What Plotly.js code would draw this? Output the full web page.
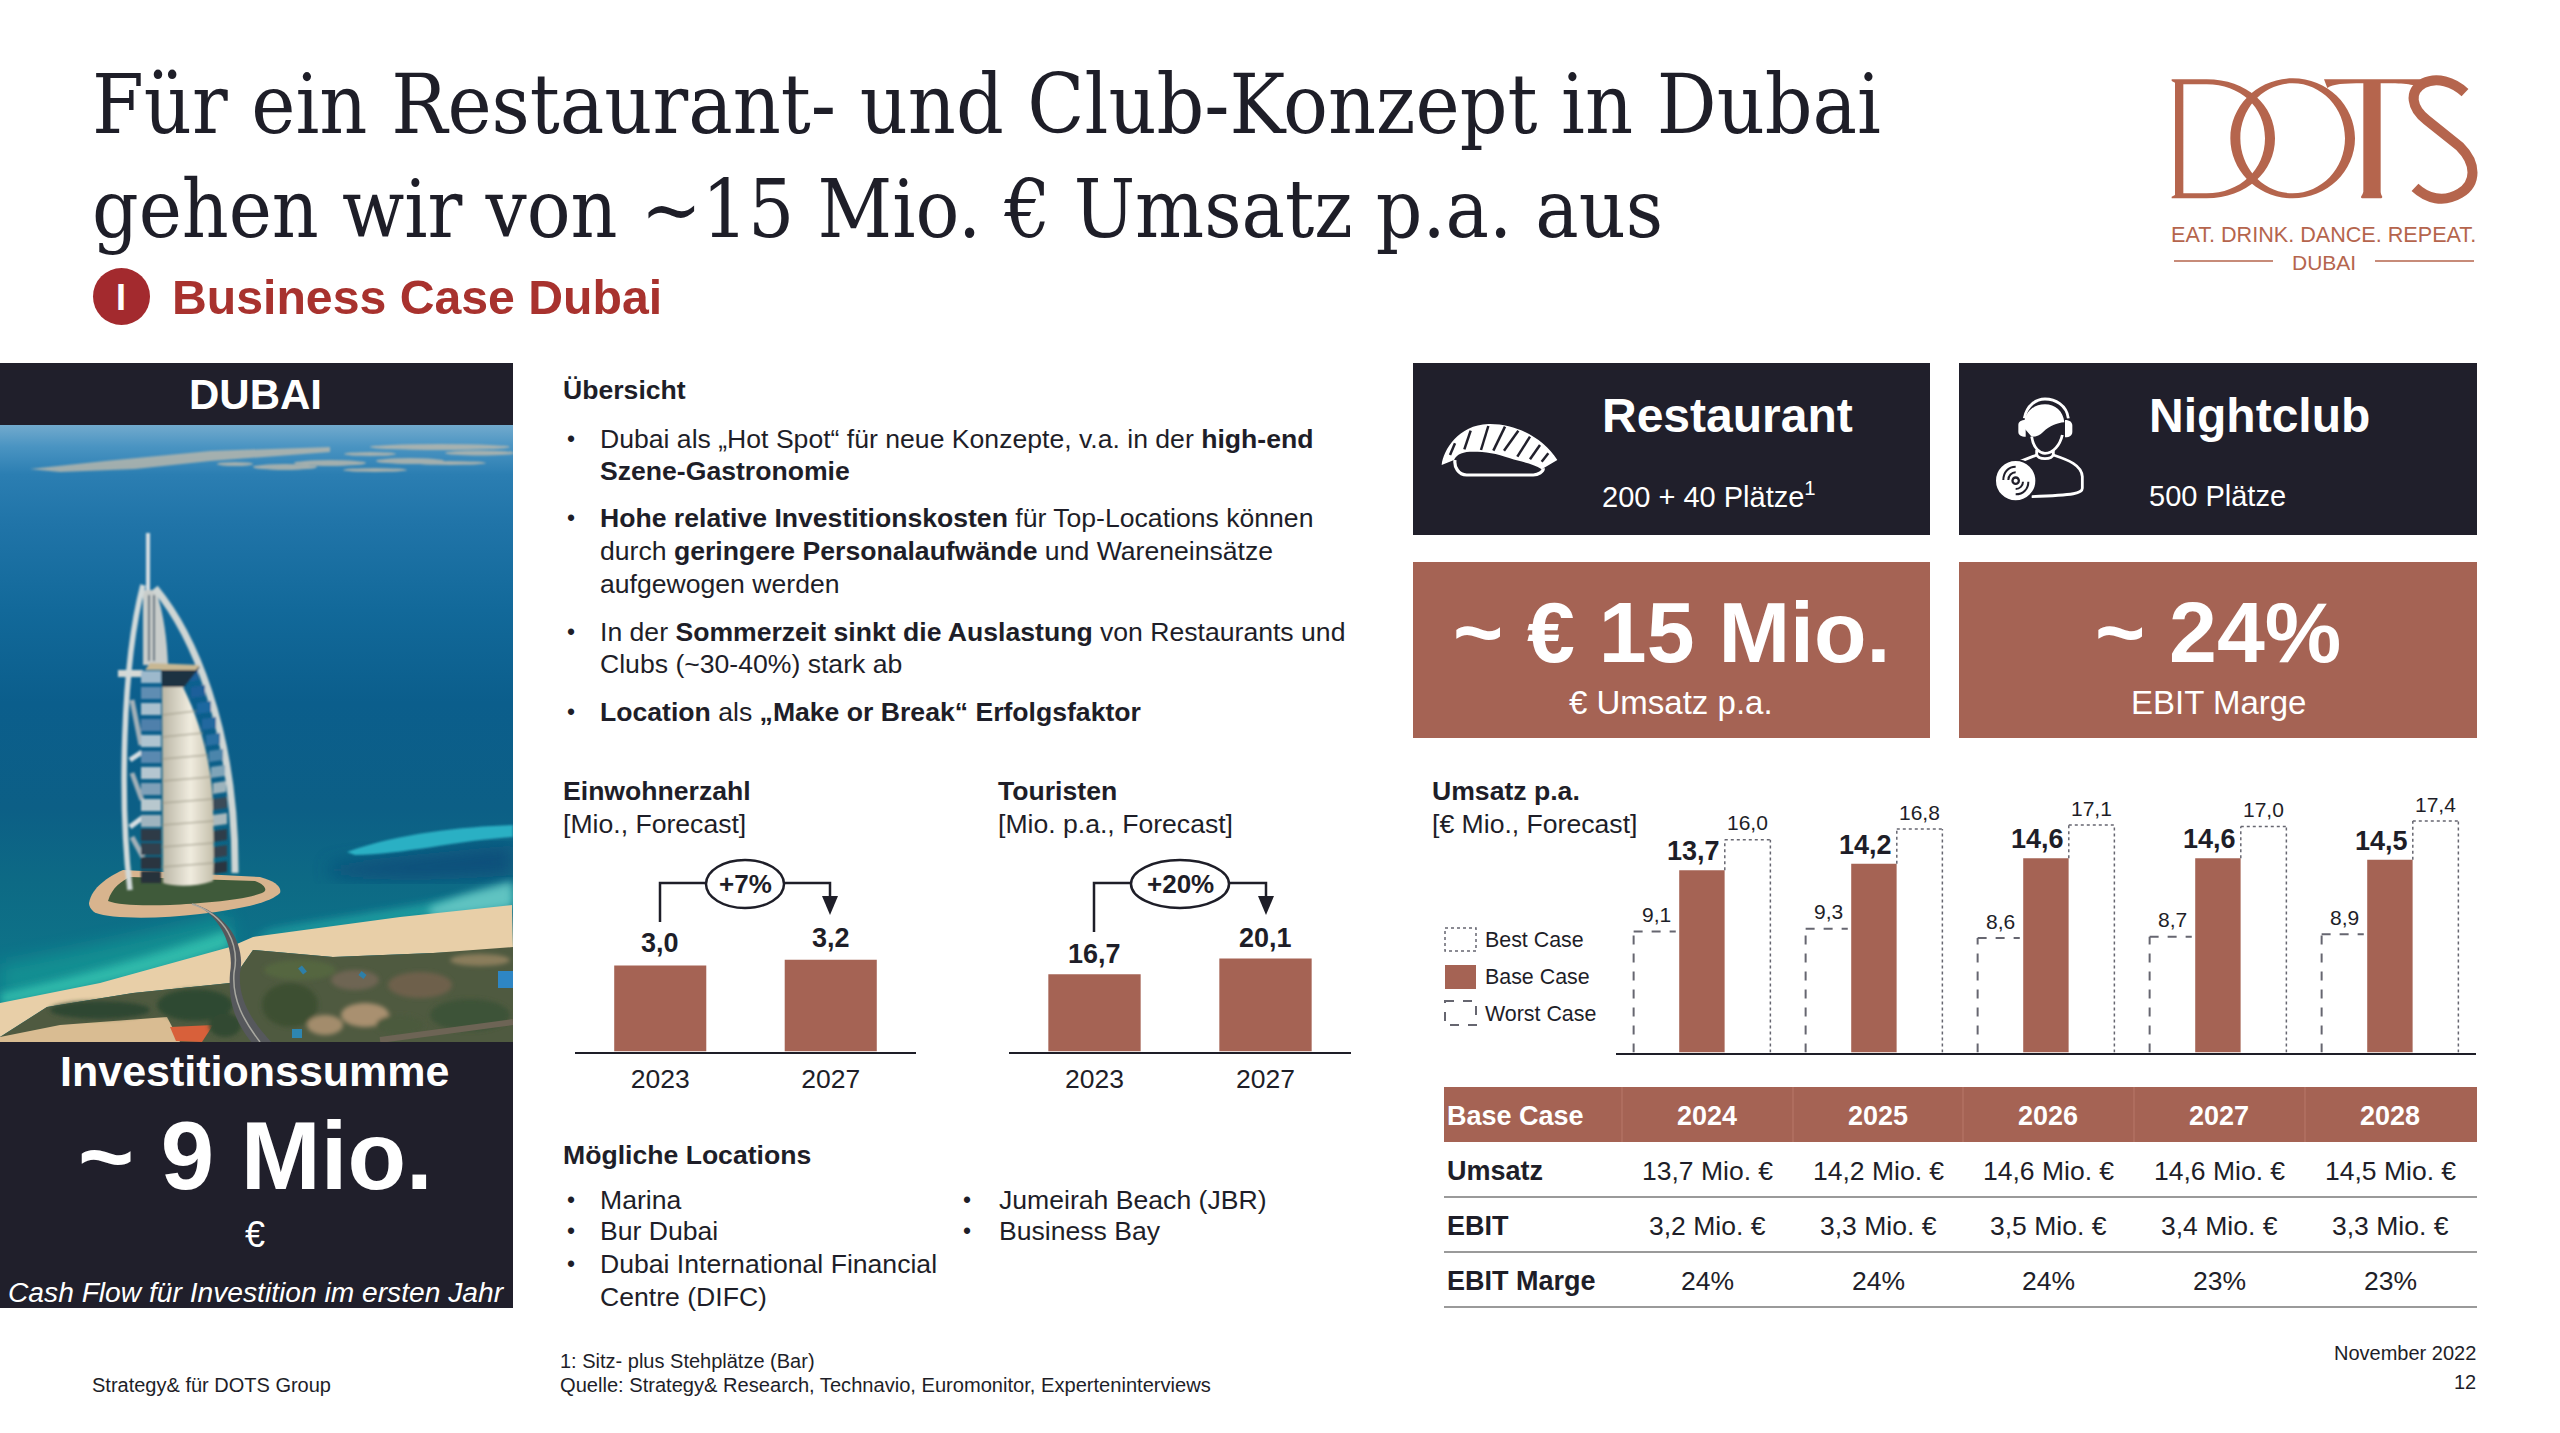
<!DOCTYPE html>
<html><head><meta charset="utf-8">
<script src="https://cdn.plot.ly/plotly-3.0.1.min.js"></script>
<style>html,body{margin:0;padding:0;background:#fff}</style></head>
<body><div id="chart" style="width:2560px;height:1433px"></div>
<script>
// ---------- data ----------
const residentYears = ['2023','2027'];
const residentValues = [3.0,3.2];
const touristYears = ['2023','2027'];
const touristValues = [16.7,20.1];
const revenueYears = ['2024','2025','2026','2027','2028'];
const worstCase = [9.1,9.3,8.6,8.7,8.9];
const baseCase = [13.7,14.2,14.6,14.6,14.5];
const bestCase = [16.0,16.8,17.1,17.0,17.4];
const ebit = [3.2,3.3,3.5,3.4,3.3];
const ebitMargin = [24,24,24,23,23];

const W=2560,H=1433;
const DARK='#201F2B', BROWN='#A56354', INK='#1E1E28', LOGO='#B5654D';
const FONT='"Liberation Sans",Arial,sans-serif';
const fx=x=>x/W, fy=y=>1-y/H;
const comma=v=>v.toFixed(1).replace('.',',');
const shapes=[], annotations=[];

function txt(x,y,text,size,opt){opt=opt||{};
  annotations.push({xref:'paper',yref:'paper',x:fx(x),y:fy(y),text:text,showarrow:false,
    xanchor:opt.a||'left',yanchor:'middle',borderpad:0,
    font:{family:opt.f||FONT,size:size,color:opt.c||INK}});
}
function axisLabel(ax,i,v,shift,size,bold,xshift){
  const t=comma(v);
  annotations.push({xref:'x'+ax,yref:'y'+ax,x:i,y:v,yshift:shift,xshift:xshift||0,text:bold?'<b>'+t+'</b>':t,
    showarrow:false,xanchor:'center',yanchor:'middle',font:{family:FONT,size:size,color:INK}});
}
function rect(x0,y0,x1,y1,fill,line){
  shapes.push({type:'rect',xref:'paper',yref:'paper',x0:fx(x0),x1:fx(x1),y0:fy(y0),y1:fy(y1),
    fillcolor:fill||'rgba(0,0,0,0)',line:line||{width:0},layer:'below'});
}
function hline(x0,x1,y,color,width,dash){
  shapes.push({type:'line',xref:'paper',yref:'paper',x0:fx(x0),x1:fx(x1),y0:fy(y),y1:fy(y),
    line:{color:color,width:width,dash:dash||'solid'}});
}
function P(d,ox,oy,sx,sy){let i=0;
  return d.replace(/-?\d+(\.\d+)?/g,n=>{const v=+n;const r=(i++%2===0)?fx(ox+v*sx):fy(oy+v*sy);return r.toFixed(6);});
}
function path(d,ox,oy,sx,sy,fill,line){
  shapes.push({type:'path',xref:'paper',yref:'paper',path:P(d,ox,oy,sx,sy),
    fillcolor:fill||'rgba(0,0,0,0)',line:line||{width:0}});
}
function ell(cx,cy,rx,ry){const k=0.5523;
  return `M${cx-rx},${cy} C${cx-rx},${cy-k*ry} ${cx-k*rx},${cy-ry} ${cx},${cy-ry} C${cx+k*rx},${cy-ry} ${cx+rx},${cy-k*ry} ${cx+rx},${cy} C${cx+rx},${cy+k*ry} ${cx+k*rx},${cy+ry} ${cx},${cy+ry} C${cx-k*rx},${cy+ry} ${cx-rx},${cy+k*ry} ${cx-rx},${cy} Z `;
}

// ---------- header ----------
const TITLEF='"DejaVu Serif Condensed","Liberation Serif",Georgia,serif';
txt(91,104,'Für ein Restaurant- und Club-Konzept in Dubai',83,{f:TITLEF});
txt(91,209,'gehen wir von ~15 Mio. € Umsatz p.a. aus',81,{f:TITLEF});
shapes.push({type:'circle',xref:'paper',yref:'paper',x0:fx(93),x1:fx(150),y0:fy(268),y1:fy(325),fillcolor:'#A32A2E',line:{width:0}});
txt(121,297,'<b>I</b>',36,{a:'center',c:'#fff'});
txt(171,297,'<b>Business Case Dubai</b>',48.2,{c:'#A8322E'});

// ---------- logo ----------
const L=[2140,50,1/3,1/3];
path('M95,88 L200,88 C320,88 405,165 405,265 C405,365 320,445 200,445 L95,445 L95,440 L105,435 L105,98 L95,93 Z M130,103 L130,430 L200,430 C300,430 375,360 375,265 C375,170 300,103 200,103 Z',...L,LOGO);
path(ell(458,265,187,180)+ell(458,265,157,165),...L,LOGO);
path('M552,88 L845,88 L840,114 C820,102 790,100 722,100 L722,425 C722,437 732,440 724,445 L666,445 C658,440 668,437 670,425 L670,100 C610,100 580,102 562,114 Z',...L,LOGO);
path('M975,128 C940,95 890,80 850,100 C805,125 815,175 860,210 L960,290 C1010,340 1010,400 960,430 C910,460 860,445 825,412',...L,null,{color:LOGO,width:10});
txt(2323,235,'EAT. DRINK. DANCE. REPEAT.',21.6,{a:'center',c:LOGO});
txt(2324,262,'DUBAI',21,{a:'center',c:LOGO});
hline(2174,2273,261,LOGO,1.5);
hline(2375,2474,261,LOGO,1.5);

// ---------- left panel ----------
rect(0,363,513,1308,DARK);
txt(255,395,'<b>DUBAI</b>',42,{a:'center',c:'#fff'});
txt(255,1071,'<b>Investitionssumme</b>',43,{a:'center',c:'#fff'});
txt(255,1155,'<b>~ 9 Mio.</b>',96,{a:'center',c:'#fff'});
txt(255,1234,'€',36,{a:'center',c:'#fff'});
txt(256,1292,'<i>Cash Flow für Investition im ersten Jahr</i>',28.2,{a:'center',c:'#fff'});

const latRows=[];
for(const [y,c] of [[246,'#9DB9CC'],[262,'#5F8DB2'],[278,'#A9C0CE'],[294,'#4F80AB'],[310,'#AFC4D0'],[326,'#5A89B0'],[342,'#B4C6D0'],[358,'#7FA0B8'],[374,'#B8C8CE'],[390,'#9FB4BF'],[404,'#2E3A46'],[418,'#33414E'],[432,'#2A3440'],[446,'#26303A']]){
  latRows.push(`<rect x="141" y="${y}" width="20" height="12" fill="${c}"/>`);
}
const rightRows=[];
for(const [x0,x1,y,c] of [[184,198,246,'#1E5F9A'],[191,205,262,'#1E5F9A'],[197,211,278,'#1F67A0'],[202,216,294,'#24689F'],[206,220,310,'#2B6FA3'],[209,223,326,'#4B85AB'],[211,225,342,'#7FA4B8'],[213,226,358,'#9DB3BC'],[213,227,374,'#3B4B58'],[213,227,390,'#AAB9BD'],[213,227,406,'#2E3C48'],[213,227,422,'#35434F'],[213,227,438,'#2A3440']]){
  rightRows.push(`<path d="M${x0},${y} L${x1},${y-2} L${x1},${y+9} L${x0},${y+11} Z" fill="${c}"/>`);
}
const photo=`<svg xmlns="http://www.w3.org/2000/svg" width="513" height="617" viewBox="0 0 513 617">
<defs>
<linearGradient id="sea" x1="0" y1="0" x2="0" y2="1">
<stop offset="0" stop-color="#72AACD"/><stop offset="0.035" stop-color="#4A94C2"/><stop offset="0.08" stop-color="#2B7EB2"/>
<stop offset="0.16" stop-color="#2074A8"/><stop offset="0.3" stop-color="#12699A"/><stop offset="0.45" stop-color="#0B5E8C"/>
<stop offset="0.62" stop-color="#0C5F86"/><stop offset="0.74" stop-color="#0D6A85"/><stop offset="1" stop-color="#0F7D8C"/></linearGradient>
<linearGradient id="sail" x1="0" y1="0" x2="1" y2="0"><stop offset="0" stop-color="#B9B5A4"/><stop offset="0.55" stop-color="#F0ECDF"/><stop offset="1" stop-color="#C4BFAB"/></linearGradient>
<filter id="b1"><feGaussianBlur stdDeviation="0.8"/></filter>
<filter id="b2"><feGaussianBlur stdDeviation="2"/></filter>
<filter id="b4"><feGaussianBlur stdDeviation="4"/></filter>
<filter id="b9"><feGaussianBlur stdDeviation="9"/></filter>
</defs>
<rect width="513" height="617" fill="url(#sea)"/>
<g fill="#BDB9AC" opacity="0.8" filter="url(#b1)">
<path d="M30,44 L105,36 L210,26 L330,22 L330,27 L210,36 L135,44 L60,47 Z"/>
<ellipse cx="235" cy="39" rx="18" ry="2"/><ellipse cx="285" cy="42" rx="32" ry="3"/><ellipse cx="330" cy="38" rx="36" ry="3"/>
<ellipse cx="375" cy="45" rx="32" ry="2"/><ellipse cx="410" cy="36" rx="34" ry="3"/><ellipse cx="450" cy="38" rx="36" ry="2"/>
<ellipse cx="440" cy="22" rx="70" ry="3"/><ellipse cx="480" cy="28" rx="35" ry="2.5"/><ellipse cx="370" cy="29" rx="26" ry="2"/>
</g>
<path d="M330,440 C400,430 470,425 513,420 L513,450 C450,455 380,458 330,450 Z" fill="#0D4A78" opacity="0.8" filter="url(#b9)"/>
<path d="M347,427 C400,408 460,402 513,400 L513,412 C460,415 400,430 355,430 Z" fill="#2BB0C4" filter="url(#b1)"/>
<path d="M270,505 C340,492 440,478 513,462 L513,482 L253,514 Z" fill="#22A8A6" opacity="0.8" filter="url(#b4)"/>
<path d="M430,482 C460,470 490,462 513,456 L513,482 C480,488 450,490 430,492 Z" fill="#6CCBC8" opacity="0.85" filter="url(#b4)"/>
<path d="M0,540 C80,525 170,505 228,490 L232,515 C170,535 80,555 0,570 Z" fill="#17A399" opacity="0.6" filter="url(#b9)"/>
<path d="M0,568 C90,548 170,525 228,505 L232,522 C170,545 90,565 0,580 Z" fill="#34C4B0" opacity="0.85" filter="url(#b4)"/>
<path d="M0,578 L100,558 L230,522 L253,512 L400,492 L512,480 L513,525 L433,528 L333,532 L253,525 L230,558 L133,568 L47,582 L0,612 Z" fill="#E8CFA8"/>
<path d="M0,612 L47,582 L133,568 L230,558 L253,525 L333,532 L433,528 L513,522 L513,617 L0,617 Z" fill="#4F5A40"/>
<path d="M0,617 L0,612 L60,600 L167,592 L180,617 Z" fill="#D9BC92"/>
<path d="M170,602 L213,600 L202,617 L176,616 Z" fill="#D8603A"/>
<g filter="url(#b2)">
<ellipse cx="100" cy="585" rx="50" ry="9" fill="#2F4632"/><ellipse cx="195" cy="580" rx="38" ry="16" fill="#2F4A30"/>
<ellipse cx="225" cy="600" rx="16" ry="12" fill="#304A30"/><ellipse cx="300" cy="545" rx="36" ry="10" fill="#55663F"/>
<ellipse cx="290" cy="580" rx="28" ry="22" fill="#3D5032"/><ellipse cx="365" cy="590" rx="24" ry="12" fill="#A99070"/>
<ellipse cx="355" cy="555" rx="24" ry="10" fill="#6E6552"/><ellipse cx="420" cy="560" rx="32" ry="13" fill="#6E604C"/>
<ellipse cx="470" cy="590" rx="40" ry="16" fill="#3D5238"/><ellipse cx="400" cy="600" rx="24" ry="10" fill="#4C5A3C"/>
<ellipse cx="325" cy="600" rx="18" ry="10" fill="#A38C6C"/><ellipse cx="480" cy="535" rx="30" ry="6" fill="#8A7D5C"/>
</g>
<rect x="498" y="546" width="15" height="17" fill="#2E86C4"/>
<rect x="292" y="604" width="10" height="9" fill="#2E86B0"/>
<path d="M300,542 L305,548 M360,548 L365,552" stroke="#2E7FA8" stroke-width="5"/>
<path d="M380,615 L513,597" stroke="#6D6455" stroke-width="6"/>
<path d="M89,478 C92,462 108,452 123,445 L260,452 C275,456 282,462 280,468 C270,478 240,484 200,489 C160,494 110,494 96,488 C92,486 89,482 89,478 Z" fill="#D8B48E"/>
<path d="M108,476 C112,462 122,456 130,452 L255,456 C266,460 268,466 262,468 C240,476 200,478 170,480 C140,481 118,480 108,476 Z" fill="#3F5A3A"/>
<path d="M190,478 C228,488 246,520 240,548 C238,575 252,596 272,618 L252,618 C234,596 228,575 230,548 C235,520 218,492 200,482 Z" fill="#56585C"/>
<path d="M192,479 C226,490 240,520 234,548 C232,575 244,596 260,617" stroke="#A8A8A0" stroke-width="1.5" fill="none"/>
<g filter="url(#b1)">
<path d="M148,108 L148,168" stroke="#D8DFE2" stroke-width="4"/>
<path d="M143,240 L143,165 L156,165 C164,190 167,215 168,240 Z" fill="#C9CDCB"/>
<path d="M149,170 L149,236 M154,170 L154,236" stroke="#55697A" stroke-width="2"/>
<path d="M118,245 L143,245 L143,252 L118,252 Z" fill="#D5D9D6"/>
<path d="M141,320 L132,275 M142,375 L132,348 M143,432 L132,412" stroke="#A2B0B8" stroke-width="5"/>
<path d="M130,335 L142,327 M130,402 L142,393" stroke="#D5DEE2" stroke-width="5"/>
<path d="M130,465 C120,380 122,240 143,160" stroke="#D2DADA" stroke-width="5.5" fill="none"/>
<path d="M155,163 C190,205 236,300 235,448" stroke="#CFD6D4" stroke-width="7" fill="none"/>
${latRows.join('')}
${rightRows.join('')}
<path d="M161,242 L200,242 L184,262 L162,262 Z" fill="#1F3242"/>
<path d="M150,238 L200,240 L196,245 L145,245 Z" fill="#C7B793"/>
<path d="M162,262 L183,262 C202,300 213,345 213,385 C214,420 214,445 213,456 C195,462 175,462 163,458 Z" fill="url(#sail)"/>
<path d="M162,290 L196,286 M162,312 L203,308 M162,334 L208,330 M162,356 L211,352 M162,378 L213,374 M162,400 L214,396 M162,422 L214,418 M162,442 L214,438" stroke="#9C9886" stroke-width="1.6" opacity="0.65"/>
</g>
</svg>`;
const images=[{source:'data:image/svg+xml;charset=utf-8,'+encodeURIComponent(photo),xref:'paper',yref:'paper',
  x:0,y:fy(425),sizex:513/W,sizey:617/H,sizing:'stretch',xanchor:'left',yanchor:'top',layer:'above'}];

// ---------- middle text ----------
const BX=566, TX=599, BODY=26.6, BUL=23;
txt(562,390,'<b>Übersicht</b>',BODY);
const overview=[
 [439,'Dubai als „Hot Spot“ für neue Konzepte, v.a. in der <b>high-end</b>',1],
 [471,'<b>Szene-Gastronomie</b>',0],
 [518,'<b>Hohe relative Investitionskosten</b> für Top-Locations können',1],
 [551,'durch <b>geringere Personalaufwände</b> und Wareneinsätze',0],
 [584,'aufgewogen werden',0],
 [632,'In der <b>Sommerzeit sinkt die Auslastung</b> von Restaurants und',1],
 [664,'Clubs (~30-40%) stark ab',0],
 [712,'<b>Location</b> als <b>„Make or Break“ Erfolgsfaktor</b>',1]];
overview.forEach(r=>{ if(r[2]) txt(BX,r[0],'•',BUL); txt(TX,r[0],r[1],BODY); });

txt(562,791,'<b>Einwohnerzahl</b>',BODY);
txt(562,824,'[Mio., Forecast]',BODY);
txt(997,791,'<b>Touristen</b>',BODY);
txt(997,824,'[Mio. p.a., Forecast]',BODY);

function growth(x0,x1,bottom,ex0,ex1,label){
  const c={color:INK,width:2.5};
  shapes.push({type:'path',xref:'paper',yref:'paper',
    path:P(`M${x0},${bottom} L${x0},883 L${x1},883 L${x1},897`,0,0,1,1),line:c});
  path(`M${x1-8},896 L${x1+8},896 L${x1},915 Z`,0,0,1,1,INK);
  shapes.push({type:'circle',xref:'paper',yref:'paper',x0:fx(ex0),x1:fx(ex1),y0:fy(860),y1:fy(908),
    fillcolor:'#fff',line:c});
  txt((ex0+ex1)/2,884,'<b>'+label+'</b>',26,{a:'center'});
}
growth(660,830,922,706,784,'+7%');
growth(1094,1266,932,1131,1229,'+20%');

txt(562,1155,'<b>Mögliche Locations</b>',BODY);
[[1200,'Marina'],[1231,'Bur Dubai'],[1264,'Dubai International Financial']].forEach(r=>{txt(BX,r[0],'•',BUL);txt(TX,r[0],r[1],BODY);});
txt(TX,1297,'Centre (DIFC)',BODY);
[[1200,'Jumeirah Beach (JBR)'],[1231,'Business Bay']].forEach(r=>{txt(962,r[0],'•',BUL);txt(998,r[0],r[1],BODY);});

// ---------- footer ----------
txt(91,1385,'Strategy&amp; für DOTS Group',20);
txt(559,1361,'1: Sitz- plus Stehplätze (Bar)',20);
txt(559,1385,'Quelle: Strategy&amp; Research, Technavio, Euromonitor, Experteninterviews',20.1);
txt(2477,1353,'November 2022',20,{a:'right'});
txt(2477,1382,'12',20,{a:'right'});

// ---------- cards ----------
rect(1413,363,1930,535,DARK); rect(1959,363,2477,535,DARK);
rect(1413,562,1930,738,BROWN); rect(1959,562,2477,738,BROWN);
txt(1601,415,'<b>Restaurant</b>',48,{c:'#fff'});
txt(1601,495,'200 + 40 Plätze<sup>1</sup>',29,{c:'#fff'});
txt(2148,415,'<b>Nightclub</b>',48,{c:'#fff'});
txt(2148,496,'500 Plätze',29,{c:'#fff'});
txt(1671,632,'<b>~ € 15 Mio.</b>',86,{a:'center',c:'#fff'});
txt(1671,702,'€ Umsatz p.a.',33,{a:'center',c:'#fff'});
txt(2218,632,'<b>~ 24%</b>',86,{a:'center',c:'#fff'});
txt(2218,702,'EBIT Marge',33,{a:'center',c:'#fff'});

// sushi icon
const S=[1430,410,1/3,1/3];
path('M35,165 C40,120 85,45 175,42 C260,40 340,85 382,150 L335,178 C310,160 270,155 240,145 C200,130 165,125 130,125 C100,125 82,130 72,150 Z',...S,'#fff');
[[75,100,60,135],[122,62,103,118],[175,48,153,120],[225,50,190,122],[265,62,222,122],[300,80,262,140],[330,105,300,148],[355,130,335,155]].forEach(s=>
  path(`M${s[0]},${s[1]} L${s[2]},${s[3]}`,...S,null,{color:DARK,width:2.5}));
path('M75,150 C72,170 85,195 110,195 L310,195 C325,195 340,185 340,175',...S,null,{color:'#fff',width:3.2});
// DJ icon
const D=[1985,385,1/3,1/3];
const white={color:'#fff',width:2.8};
path('M118,100 C125,60 155,42 180,42 C210,42 245,60 250,100',...D,null,white);
path('M118,108 C125,75 150,58 180,58 C210,58 235,78 238,112 C215,114 195,122 175,140 C165,150 155,155 140,155 L118,130 Z',...D,'#fff');
path('M100,120 C100,110 108,105 122,105 L122,155 C108,155 100,150 100,140 Z',...D,'#fff');
path('M240,105 C255,105 262,112 262,122 L262,140 C262,150 255,157 240,157 Z',...D,'#fff');
path('M140,155 C145,190 165,205 180,205 C205,205 225,180 232,150',...D,null,white);
path('M155,195 L155,208 C160,225 200,225 205,208 L205,195',...D,null,white);
path('M205,210 C250,225 290,240 292,275 L292,310 C292,325 270,330 140,335',...D,null,white);
path('M155,210 C135,218 115,225 100,232',...D,null,white);
path(ell(92,287,62,62),...D,'#fff',{color:DARK,width:2});
path('M55,285 C55,262 70,245 92,245 M70,285 C70,272 80,262 92,262',...D,null,{color:DARK,width:2});
path('M130,290 C130,312 115,328 92,328 M114,290 C114,302 104,312 92,312',...D,null,{color:DARK,width:2});
path(ell(92,287,13,13),...D,DARK);
path(ell(92,287,6,6),...D,'#fff');

// ---------- legend of the revenue chart ----------
txt(1431,791,'<b>Umsatz p.a.</b>',BODY);
txt(1431,824,'[€ Mio., Forecast]',BODY);
const GREY='#666670';
rect(1445,928,1476,951,'#fff',{color:GREY,width:1.5,dash:'dot'});
rect(1445,965,1476,989,BROWN);
rect(1445,1001,1476,1025,'#fff',{color:GREY,width:2,dash:'dash'});
txt(1484,940,'Best Case',21.4); txt(1484,977,'Base Case',21.4); txt(1484,1014,'Worst Case',21.4);

// ---------- outlines and value labels on the chart's own axes ----------
const BW=0.265;
revenueYears.forEach((_,i)=>{
  const ax={xref:'x3',yref:'y3',type:'line'};
  const wx0=i-1.5*BW, wx1=i-0.5*BW, bx0=i+0.5*BW, bx1=i+1.5*BW;
  const wl={color:GREY,width:2,dash:'dash'}, bl={color:GREY,width:1.5,dash:'dot'};
  shapes.push({...ax,x0:wx0,x1:wx0,y0:0,y1:worstCase[i],line:wl});
  shapes.push({...ax,x0:wx0,x1:wx1-0.02,y0:worstCase[i],y1:worstCase[i],line:wl});
  shapes.push({...ax,x0:bx0,x1:bx0,y0:baseCase[i],y1:bestCase[i],line:bl});
  shapes.push({...ax,x0:bx0,x1:bx1,y0:bestCase[i],y1:bestCase[i],line:bl});
  shapes.push({...ax,x0:bx1,x1:bx1,y0:0,y1:bestCase[i],line:bl});
  axisLabel(3,i,baseCase[i],19,27,true,-9);
  axisLabel(3,i-BW,worstCase[i],17,21,false);
  axisLabel(3,i+BW,bestCase[i],17,21,false);
});
residentValues.forEach((v,i)=>axisLabel('',i,v,22,27,true));
touristValues.forEach((v,i)=>axisLabel(2,i,v,20,27,true));

// ---------- table ----------
const COLS=[1707,1878,2048,2219,2390];
rect(1444,1087,2477,1142,BROWN);
[1622,1793,1963,2134,2305].forEach(x=>shapes.push({type:'line',xref:'paper',yref:'paper',x0:fx(x),x1:fx(x),y0:fy(1087),y1:fy(1142),line:{color:'#B87868',width:1}}));
txt(1446,1116,'<b>Base Case</b>',27,{c:'#fff'});
revenueYears.forEach((y,i)=>txt(COLS[i],1116,'<b>'+y+'</b>',27,{a:'center',c:'#fff'}));
txt(1446,1171,'<b>Umsatz</b>',27); txt(1446,1226,'<b>EBIT</b>',27); txt(1446,1281,'<b>EBIT Marge</b>',27);
COLS.forEach((x,i)=>{
  txt(x,1171,comma(baseCase[i])+' Mio. €',26.5,{a:'center'});
  txt(x,1226,comma(ebit[i])+' Mio. €',26.5,{a:'center'});
  txt(x,1281,ebitMargin[i]+'%',26.5,{a:'center'});
});
[1197,1252,1307].forEach(y=>hline(1444,2477,y,'#9A9A9A',2));

// ---------- traces ----------
const traces=[
 {type:'bar',x:residentYears,y:residentValues,xaxis:'x',yaxis:'y',marker:{color:BROWN},width:0.54,cliponaxis:false,showlegend:false,hoverinfo:'skip'},
 {type:'bar',x:touristYears,y:touristValues,xaxis:'x2',yaxis:'y2',marker:{color:BROWN},width:0.54,cliponaxis:false,showlegend:false,hoverinfo:'skip'},
 {type:'bar',name:'Worst Case',x:revenueYears,y:worstCase,xaxis:'x3',yaxis:'y3',marker:{color:'#fff'},offsetgroup:'a',showlegend:false,hoverinfo:'skip'},
 {type:'bar',name:'Base Case',x:revenueYears,y:baseCase,xaxis:'x3',yaxis:'y3',marker:{color:BROWN},offsetgroup:'b',showlegend:false,hoverinfo:'skip'},
 {type:'bar',name:'Best Case',x:revenueYears,y:bestCase,xaxis:'x3',yaxis:'y3',marker:{color:'#fff'},offsetgroup:'c',showlegend:false,hoverinfo:'skip'}
];
function xa(x0,x1,ticks,size){return {domain:[fx(x0),fx(x1)],type:'category',range:[-0.5,ticks-0.5],showgrid:false,zeroline:false,
  showline:true,linecolor:INK,linewidth:2.5,ticks:'',ticklabelstandoff:2,tickfont:{family:FONT,size:size,color:INK},fixedrange:true};}
function ya(y0,y1,max,anchor){return {domain:[fy(y0),fy(y1)],range:[0,max],visible:false,showgrid:false,zeroline:false,fixedrange:true,anchor:anchor};}

const layout={width:W,height:H,margin:{l:0,r:0,t:0,b:0,pad:0},paper_bgcolor:'#fff',plot_bgcolor:'rgba(0,0,0,0)',
  barmode:'group',bargap:0.205,bargroupgap:0,showlegend:false,
  font:{family:FONT,color:INK},
  xaxis:{...xa(575,916,2,26.5),anchor:'y'},yaxis:ya(1051.5,900,151.5/28.7,'x'),
  xaxis2:{...xa(1009,1351,2,26.5),anchor:'y2'},yaxis2:ya(1051.5,900,151.5/4.63,'x2'),
  xaxis3:{...xa(1616,2476,5,26),anchor:'y3',showticklabels:false},yaxis3:ya(1052.5,800,252.5/13.3,'x3'),
  shapes:shapes,annotations:annotations,images:images};
Plotly.newPlot('chart',traces,layout,{displayModeBar:false,staticPlot:true});
</script></body></html>
